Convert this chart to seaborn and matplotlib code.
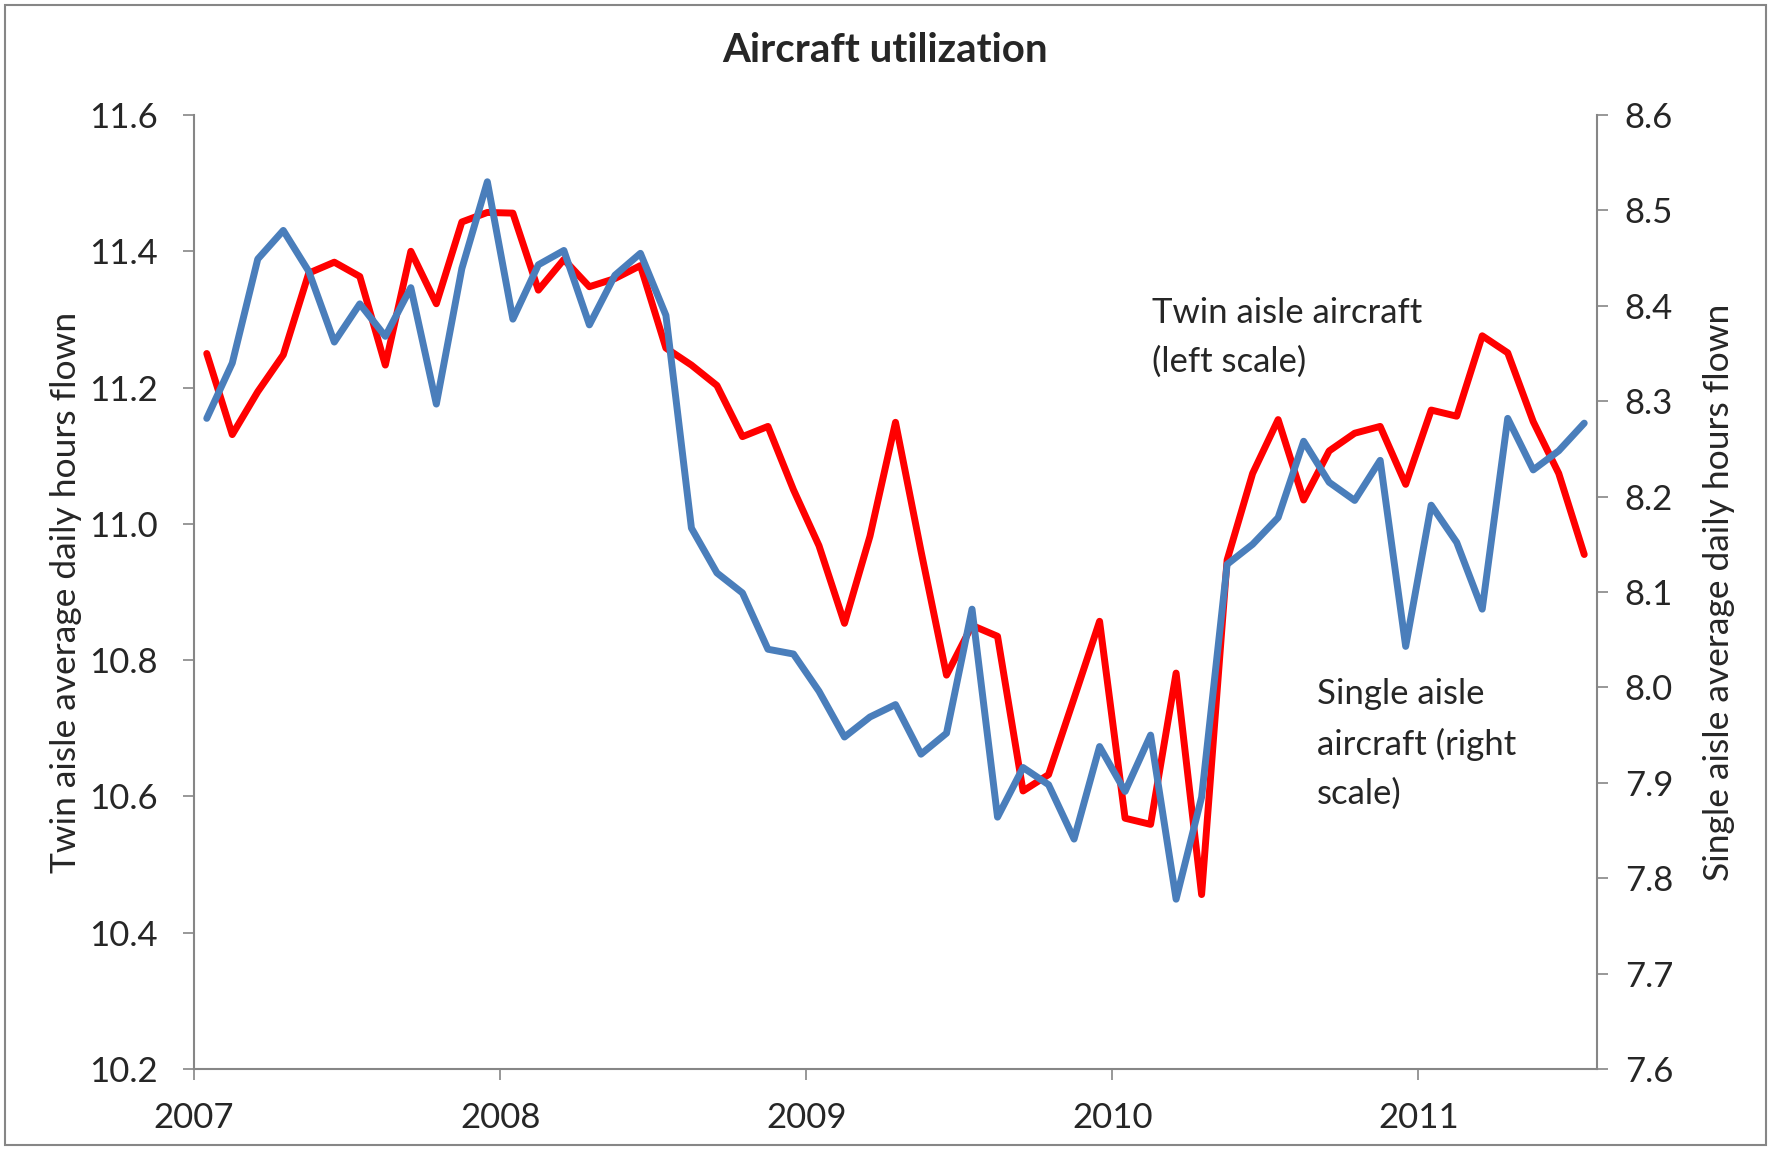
import matplotlib
matplotlib.use("Agg")
import matplotlib.pyplot as plt
import seaborn as sns
import pandas as pd
import numpy as np
from matplotlib.patches import Rectangle

# ---- data (monthly, Jan 2007 - Jul 2011) ----
months = pd.period_range("2007-01", "2011-07", freq="M")

twin_aisle = [
    11.250, 11.131, 11.194, 11.248, 11.368, 11.384, 11.363, 11.233, 11.400, 11.323,
    11.443, 11.457, 11.456, 11.343, 11.388, 11.348, 11.360, 11.379, 11.258, 11.233,
    11.203, 11.128, 11.143, 11.050, 10.968, 10.854, 10.982, 11.149, 10.960, 10.778,
    10.851, 10.835, 10.608, 10.632, 10.744, 10.857, 10.568, 10.559, 10.781, 10.456,
    10.947, 11.074, 11.153, 11.035, 11.107, 11.133, 11.143, 11.058, 11.167, 11.158,
    11.276, 11.251, 11.150, 11.074, 10.955,
]
single_aisle = [
    8.282, 8.340, 8.449, 8.479, 8.436, 8.362, 8.402, 8.368, 8.419, 8.297,
    8.439, 8.530, 8.386, 8.443, 8.458, 8.380, 8.432, 8.455, 8.390, 8.167,
    8.120, 8.099, 8.040, 8.035, 7.996, 7.948, 7.969, 7.982, 7.930, 7.952,
    8.082, 7.864, 7.916, 7.898, 7.841, 7.938, 7.891, 7.950, 7.778, 7.885,
    8.129, 8.150, 8.178, 8.258, 8.215, 8.196, 8.238, 8.043, 8.191, 8.152,
    8.082, 8.282, 8.228, 8.248, 8.277,
]
year_ticks = [2007, 2008, 2009, 2010, 2011]
left_ticks = [10.2, 10.4, 10.6, 10.8, 11.0, 11.2, 11.4, 11.6]
right_ticks = [7.6, 7.7, 7.8, 7.9, 8.0, 8.1, 8.2, 8.3, 8.4, 8.5, 8.6]

df = pd.DataFrame({
    "t": [m.year + (m.month - 0.5) / 12 for m in months],
    "twin": twin_aisle,
    "single": single_aisle,
})

# ---- style ----
sns.set_style("white")
plt.rcParams["font.family"] = ["Lato", "DejaVu Sans"]
AX = "#868686"
RED = "#FF0000"
BLUE = "#4A7EBB"
FS = 25

fig = plt.figure(figsize=(17.71, 11.49), dpi=100)
ax = fig.add_axes([194 / 1771, 1 - 1069 / 1149, (1597 - 194) / 1771, (1069 - 115) / 1149])
ax2 = ax.twinx()

sns.lineplot(data=df, x="t", y="twin", ax=ax, color=RED, linewidth=5, zorder=3)
sns.lineplot(data=df, x="t", y="single", ax=ax2, color=BLUE, linewidth=5, zorder=4)

ax.set_xlim(2007, 2007 + len(months) / 12)
ax.set_ylim(10.2, 11.6)
ax2.set_ylim(7.6, 8.6)
ax.set_xticks(year_ticks)
ax.set_xticklabels([str(y) for y in year_ticks])
ax.set_yticks(left_ticks)
ax.set_yticklabels([f"{v:.1f}" for v in left_ticks])
ax2.set_yticks(right_ticks)
ax2.set_yticklabels([f"{v:.1f}" for v in right_ticks])

for a in (ax, ax2):
    a.spines["top"].set_visible(False)
    for s in ("left", "right", "bottom"):
        a.spines[s].set_color(AX)
        a.spines[s].set_linewidth(1.5)
    a.grid(False)
ax.spines["right"].set_visible(False)
ax2.spines["left"].set_visible(False)
ax2.spines["bottom"].set_visible(False)

ax.tick_params(axis="x", direction="out", length=8, width=1.2, color=AX,
               labelsize=FS, pad=16, bottom=True)
ax.tick_params(axis="y", direction="out", length=8, width=1.2, color=AX,
               labelsize=FS, pad=18, left=True)
ax2.tick_params(axis="y", direction="out", length=8, width=1.2, color=AX,
                labelsize=FS, pad=12, right=True)

ax.set_xlabel("")
ax.set_ylabel("Twin aisle average daily hours flown", fontsize=25.5)
ax2.set_ylabel("Single aisle average daily hours flown", fontsize=25.5)
ax.yaxis.set_label_coords(-0.080, 0.5)
ax2.yaxis.set_label_coords(1.0756, 0.5)

fig.suptitle("Aircraft utilization", x=0.5, y=1 - 51 / 1149, va="center",
             fontsize=29, fontweight="bold")

fig.text(1152 / 1771, 1 - 297 / 1149, "Twin aisle aircraft\n(left scale)",
         fontsize=FS, ha="left", va="top", linespacing=1.65)
fig.text(1317 / 1771, 1 - 678 / 1149, "Single aisle\naircraft (right\nscale)",
         fontsize=FS, ha="left", va="top", linespacing=1.65)

fig.patches.append(Rectangle((5 / 1771, 4 / 1149), 1 - 10 / 1771, 1 - 9 / 1149,
                             transform=fig.transFigure, fill=False,
                             edgecolor=AX, linewidth=1.5))

fig.savefig("out.png", dpi=100)
